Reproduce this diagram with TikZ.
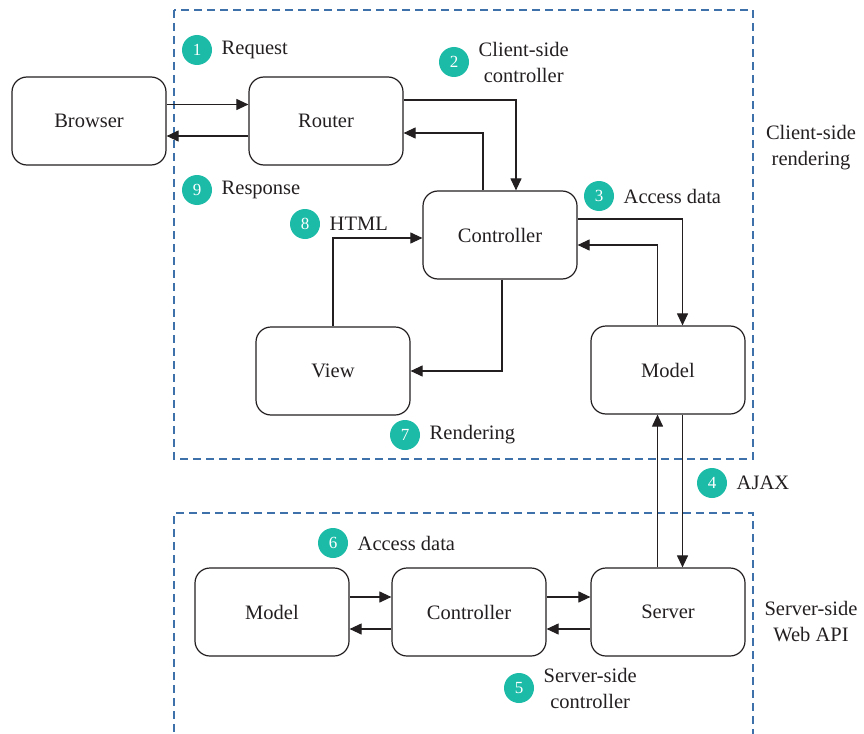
\documentclass[tikz,border=0pt]{standalone}
\usepackage{fontspec}
\setmainfont{Liberation Serif}
\usetikzlibrary{arrows.meta}
\usetikzlibrary{positioning}
\definecolor{ink}{RGB}{35,31,32}
\definecolor{badgeteal}{RGB}{27,187,168}
\definecolor{zoneblue}{RGB}{62,112,170}

\begin{document}
\begin{tikzpicture}[
		x=1pt, y=-1pt,
		node distance=6pt,
		font=\fontsize{20.5}{26}\selectfont,
		block/.style={draw=ink, line width=1.2pt, rounded corners=15pt, minimum width=154pt, minimum height=88pt, text=ink},
		badge/.style={circle, fill=badgeteal, text=white, minimum size=30pt, inner sep=0pt, font=\fontsize{17}{17}\selectfont},
		note/.style={text=ink, align=center},
		zone/.style={draw=zoneblue, line width=1.2pt, dash pattern=on 8pt off 5pt},
		arrow/.style={draw=ink, line width=1.1pt, -{Triangle[length=12pt,width=11pt]}},
	]
	\useasboundingbox (0,0) rectangle (864,733);

	% client and server zones
	\draw[zone] (174,10) rectangle (753,459);
	\draw[zone] (174,745) -- (174,513) -- (753,513) -- (753,745);

	\node[block] (browser) at (89,121) {Browser};
	\node[block] (router) at (326,121) {Router};
	\node[block] (ctrl) at (500,235) {Controller};
	\node[block] (view) at (333,371) {View};
	\node[block] (model) at (668,370) {Model};
	\node[block] (smodel) at (272,612) {Model};
	\node[block] (sctrl) at (469,612) {Controller};
	\node[block] (server) at (668,612) {Server};

	\draw[arrow] ([yshift=16.5pt]browser.east) -- ([yshift=16.5pt]router.west);
	\draw[arrow] ([yshift=-15pt]router.west) -- ([yshift=-15pt]browser.east);
	\draw[arrow] ([yshift=21pt]router.east) -| ([xshift=16pt]ctrl.north);
	\draw[arrow] ([xshift=-17pt]ctrl.north) |- ([yshift=-12pt]router.east);
	\draw[arrow] ([yshift=16pt]ctrl.east) -| ([xshift=14.5pt]model.north);
	\draw[arrow] ([xshift=-10.5pt]model.north) |- ([yshift=-10pt]ctrl.east);
	\draw[arrow] (view.north) |- ([yshift=-3pt]ctrl.west);
	\draw[arrow] ([xshift=2pt]ctrl.south) |- (view.east);
	\draw[arrow] ([xshift=14.5pt]model.south) -- ([xshift=14.5pt]server.north);
	\draw[arrow] ([xshift=-10.5pt]server.north) -- ([xshift=-10.5pt]model.south);
	\draw[arrow] ([yshift=15pt]smodel.east) -- ([yshift=15pt]sctrl.west);
	\draw[arrow] ([yshift=-17pt]sctrl.west) -- ([yshift=-17pt]smodel.east);
	\draw[arrow] ([yshift=15pt]sctrl.east) -- ([yshift=15pt]server.west);
	\draw[arrow] ([yshift=-17pt]server.west) -- ([yshift=-17pt]sctrl.east);

	% numbered steps
	\node[badge] (b1) at (197,50) {1};
	\node[note, right=of b1] (l1) {Request};
	\node[badge] (b2) at (454,62) {2};
	\node[note, right=of b2] (l2) {Client-side\\controller};
	\node[badge] (b3) at (599,196) {3};
	\node[note, right=of b3] (l3) {Access data};
	\node[badge] (b4) at (712,483) {4};
	\node[note, right=of b4] (l4) {AJAX};
	\node[badge] (b5) at (519,688) {5};
	\node[note, right=of b5] (l5) {Server-side\\controller};
	\node[badge] (b6) at (333,543) {6};
	\node[note, right=of b6] (l6) {Access data};
	\node[badge] (b7) at (405,435) {7};
	\node[note, right=of b7] (l7) {Rendering};
	\node[badge] (b8) at (305,224) {8};
	\node[note, right=of b8] (l8) {HTML};
	\node[badge] (b9) at (197,190) {9};
	\node[note, right=of b9] (l9) {Response};

	\node[note] (csr) at (811,148) {Client-side\\rendering};
	\node[note] (ssw) at (811,622) {Server-side\\Web API};
\end{tikzpicture}
\end{document}
